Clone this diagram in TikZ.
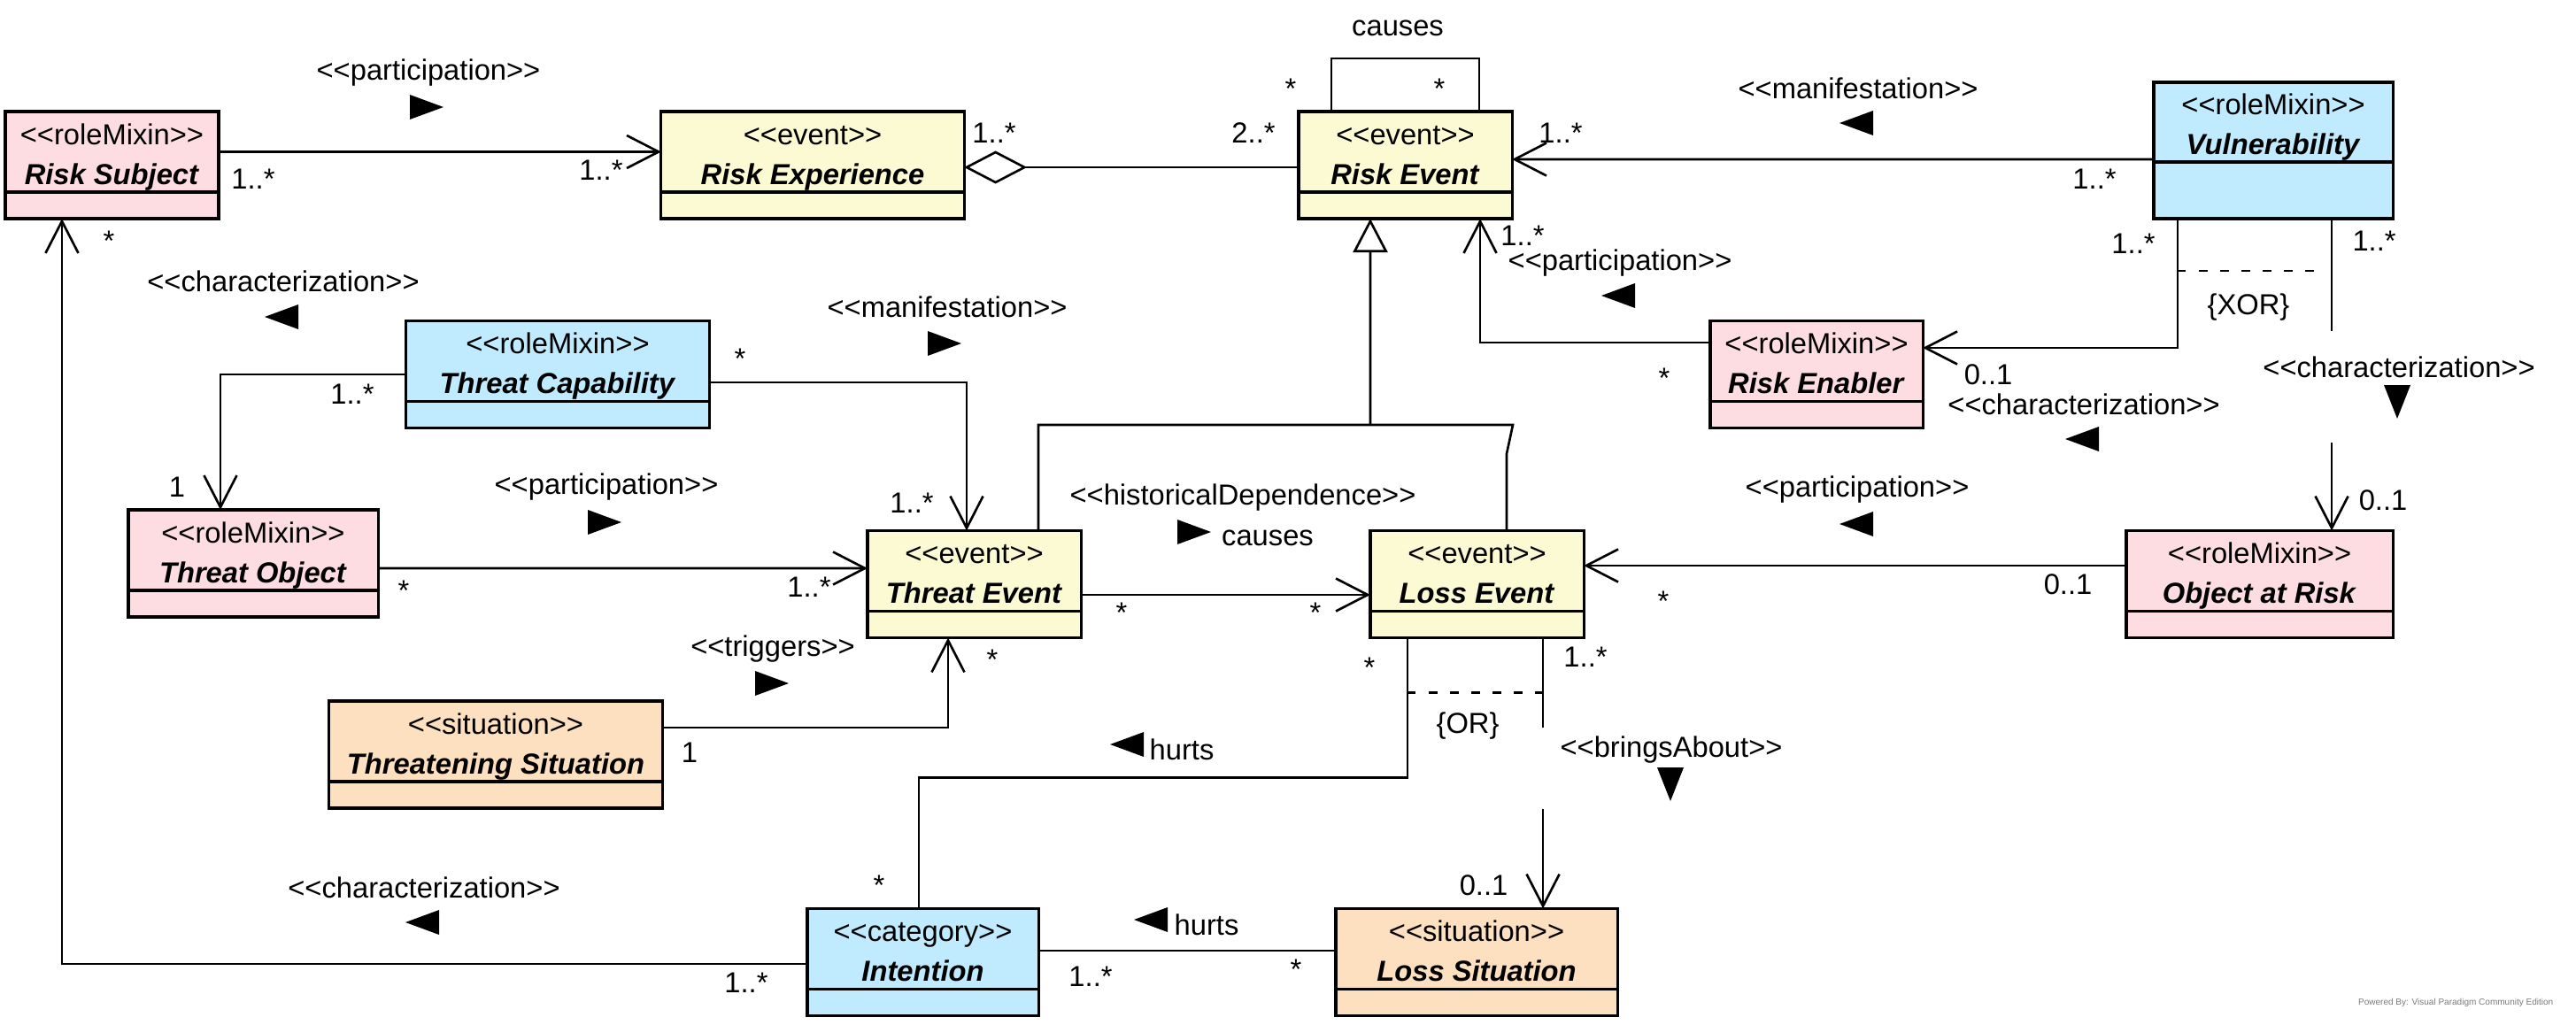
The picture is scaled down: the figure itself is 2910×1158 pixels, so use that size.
\documentclass[tikz,border=0pt]{standalone}
\usepackage{fontspec}
\setmainfont{Liberation Sans}
\usetikzlibrary{arrows.meta, positioning}
\definecolor{fPink}{HTML}{FDDDE1}
\definecolor{fYellow}{HTML}{FBFAD3}
\definecolor{fBlue}{HTML}{C0EBFE}
\definecolor{fPeach}{HTML}{FDE0C0}
\definecolor{wmGray}{HTML}{7A7A7A}
\newcommand{\stereo}[1]{<{}<#1>{}>}
\newcommand{\cname}[1]{\textbf{\textit{#1}}}
\tikzset{
  umlfont/.style={font=\fontsize{9.3}{12.8}\selectfont},
  % fixed text height/depth: the two lines sit a little below the middle
  cls/.style={draw, line width=0.9pt, fill=#1, umlfont, align=center,
    minimum height=0.91cm, inner sep=0pt, outer sep=0pt,
    text height=23pt, text depth=2pt},
  cmp/.style={draw, line width=0.9pt, fill=#1, minimum height=0.30cm,
    inner sep=0pt, outer sep=0pt},
  lbl/.style={umlfont, inner sep=1pt},
  link/.style={line width=0.75pt},
  assoc/.style={link, -{Straight Barb[length=3.6mm,width=3.7mm]}},
  gen/.style={link, -{Triangle[open,length=3.8mm,width=3.9mm]}},
  aggr/.style={link, {Diamond[open,length=7.1mm,width=3.7mm]}-},
  cstr/.style={link, dash pattern=on 0.95mm off 1.45mm},
  % filled reading-direction marks next to the stereotypes
  pics/triR/.style={code={\fill (-19,-14) -- (19,0) -- (-19,14) -- cycle;}},
  pics/triL/.style={code={\fill (19,-14) -- (-19,0) -- (19,14) -- cycle;}},
  pics/triD/.style={code={\fill (-15,-19) -- (0,19) -- (15,-19) -- cycle;}},
}

\begin{document}
\begin{tikzpicture}[x=0.01cm, y=-0.01cm]
\useasboundingbox (0,0) rectangle (2910,1158);

% =====================================================================
% CLASSES
% =====================================================================
\node[cls=fPink, minimum width=2.41cm] (rsub) at (126.5,171.5) {\stereo{roleMixin}\\\cname{Risk Subject}};
\node[cmp=fPink, minimum width=2.41cm, below=0pt of rsub] (rsub-a) {};

\node[cls=fYellow, minimum width=3.42cm] (rexp) at (918,171.5) {\stereo{event}\\\cname{Risk Experience}};
\node[cmp=fYellow, minimum width=3.42cm, below=0pt of rexp] (rexp-a) {};

\node[cls=fYellow, minimum width=2.41cm] (rev) at (1587.5,171.5) {\stereo{event}\\\cname{Risk Event}};
\node[cmp=fYellow, minimum width=2.41cm, below=0pt of rev] (rev-a) {};

\node[cls=fBlue, minimum width=2.70cm, minimum height=0.90cm] (vul) at (2568,138) {\stereo{roleMixin}\\\cname{Vulnerability}};
\node[cmp=fBlue, minimum width=2.70cm, minimum height=0.64cm, below=0pt of vul] (vul-a) {};

\node[cls=fBlue, minimum width=3.42cm] (tc) at (630,408) {\stereo{roleMixin}\\\cname{Threat Capability}};
\node[cmp=fBlue, minimum width=3.42cm, below=0pt of tc] (tc-a) {};

\node[cls=fPink, minimum width=2.40cm] (ren) at (2052,408) {\stereo{roleMixin}\\\cname{Risk Enabler}};
\node[cmp=fPink, minimum width=2.40cm, below=0pt of ren] (ren-a) {};

\node[cls=fPink, minimum width=2.82cm] (to) at (286,621.5) {\stereo{roleMixin}\\\cname{Threat Object}};
\node[cmp=fPink, minimum width=2.82cm, below=0pt of to] (to-a) {};

\node[cls=fYellow, minimum width=2.41cm] (te) at (1100.5,645) {\stereo{event}\\\cname{Threat Event}};
\node[cmp=fYellow, minimum width=2.41cm, below=0pt of te] (te-a) {};

\node[cls=fYellow, minimum width=2.41cm] (le) at (1668.5,645) {\stereo{event}\\\cname{Loss Event}};
\node[cmp=fYellow, minimum width=2.41cm, below=0pt of le] (le-a) {};

\node[cls=fPink, minimum width=3.01cm] (oar) at (2552.5,645) {\stereo{roleMixin}\\\cname{Object at Risk}};
\node[cmp=fPink, minimum width=3.01cm, below=0pt of oar] (oar-a) {};

\node[cls=fPeach, minimum width=3.76cm] (ts) at (560,837.5) {\stereo{situation}\\\cname{Threatening Situation}};
\node[cmp=fPeach, minimum width=3.76cm, below=0pt of ts] (ts-a) {};

\node[cls=fBlue, minimum width=2.61cm] (int) at (1042.5,1072) {\stereo{category}\\\cname{Intention}};
\node[cmp=fBlue, minimum width=2.61cm, below=0pt of int] (int-a) {};

\node[cls=fPeach, minimum width=3.18cm] (ls) at (1668,1072) {\stereo{situation}\\\cname{Loss Situation}};
\node[cmp=fPeach, minimum width=3.18cm, below=0pt of ls] (ls-a) {};

% =====================================================================
% CONNECTORS
% =====================================================================
\draw[assoc] (rsub) -- (rexp);
\draw[aggr] ([yshift=-0.175cm]rexp.east) -- ([yshift=-0.175cm]rev.west);
\draw[link] ([xshift=-0.835cm]rev.north) -- ++(0,-60) -| ([xshift=0.835cm]rev.north);
\draw[assoc] ([yshift=-0.42cm]vul.west) -- ([yshift=-0.085cm]rev.east);
\draw[assoc] ([yshift=0.21cm]ren.west) -| ([xshift=0.845cm]rev-a.south);

% generalization of the two events
\coordinate (gJ) at (1548,480);
\coordinate (gR) at (1709,480);
\draw[gen] (gJ) -- ([xshift=-0.395cm]rev-a.south);
\draw[link] ([xshift=0.725cm]te.north) |- (gR) -- ([xshift=0.335cm,yshift=0.87cm]le.north) -- ([xshift=0.335cm]le.north);

\draw[assoc] ([yshift=-0.15cm]tc.west) -| ([xshift=-0.37cm]to.north);
\draw[assoc] ([yshift=-0.24cm]tc.east) -| ([xshift=-0.085cm]te.north);
\draw[assoc] ([yshift=-0.205cm]to.east) -- ([yshift=0.03cm]te.west);
\draw[assoc] ([yshift=0.155cm]ts.east) -| ([xshift=-0.295cm]te-a.south);
\draw[assoc] ([yshift=-0.27cm]te.east) -- ([yshift=-0.27cm]le.west);
\draw[assoc] ([yshift=0.06cm]oar.west) -- ([yshift=0.06cm]le.east);

% vulnerability: XOR pair
\draw[assoc] ([xshift=-1.08cm]vul-a.south) |- ([yshift=0.15cm]ren.east);
\draw[link] ([xshift=0.66cm]vul-a.south) -- ++(0,127);
\draw[assoc] ([xshift=0.815cm,yshift=0.99cm]oar.north) -- ([xshift=0.815cm]oar.north);
\draw[cstr] ([xshift=-1.08cm,yshift=-0.59cm]vul-a.south) -- ([xshift=0.57cm,yshift=-0.59cm]vul-a.south);

% loss event: OR pair
\draw[link] ([xshift=0.745cm]le-a.south) -- ++(0,101);
\draw[assoc] ([xshift=0.75cm,yshift=1.12cm]ls.north) -- ([xshift=0.75cm]ls.north);
\draw[link] ([xshift=-0.785cm]le-a.south) -- ++(0,158) -| ([xshift=-0.045cm]int.north);
\draw[cstr] ([xshift=-0.785cm,yshift=-0.62cm]le-a.south) -- ([xshift=0.745cm,yshift=-0.62cm]le-a.south);

\draw[link] ([yshift=-0.02cm]int.east) -- ([yshift=-0.02cm]ls.west);
\draw[assoc] ([yshift=-0.17cm]int.west) -| ([xshift=-0.565cm]rsub-a.south);

% =====================================================================
% LABELS
% =====================================================================
% -- top row
\node[lbl] (l-part1) at (484,82) {\stereo{participation}};
\pic at (482,121) {triR};
\node[lbl] (m-rs1) at (286,202) {1..*};
\node[lbl] (m-rx1) at (679,192) {1..*};
\node[lbl] (m-rx2) at (1123,150) {1..*};
\node[lbl] (m-re1) at (1416,150) {2..*};
\node[lbl] (l-cause1) at (1579,32) {causes};
\node[lbl] (m-re2) at (1458,100) {*};
\node[lbl] (m-re3) at (1626,100) {*};
\node[lbl] (l-manif1) at (2099,100) {\stereo{manifestation}};
\pic at (2097,139) {triL};
\node[lbl] (m-re4) at (1763,150) {1..*};
\node[lbl] (m-vu1) at (2366,202) {1..*};
\node[lbl] (m-re5) at (1720,266) {1..*};
\node[lbl] (l-part2) at (1830,297) {\stereo{participation}};
\pic at (1828,334) {triL};
\node[lbl] (m-en1) at (1880,427) {*};

% -- threat side
\node[lbl] (l-char1) at (320,318) {\stereo{characterization}};
\pic at (318,358) {triL};
\node[lbl] (m-tc1) at (398,445) {1..*};
\node[lbl] (m-to1) at (200,550) {1};
\node[lbl] (l-manif2) at (1070,347) {\stereo{manifestation}};
\pic at (1067,388) {triR};
\node[lbl] (m-tc2) at (836,405) {*};
\node[lbl] (m-te1) at (1030,568) {1..*};
\node[lbl] (l-part3) at (685,550) {\stereo{participation}};
\pic at (683,590) {triR};
\node[lbl] (m-to2) at (456,667) {*};
\node[lbl] (m-te2) at (914,663) {1..*};
\node[lbl] (l-trig) at (873,733) {\stereo{triggers}};
\pic at (872,772) {triR};
\node[lbl] (m-ts1) at (779,850) {1};
\node[lbl] (m-te3) at (1121,745) {*};
\node[lbl] (l-hist) at (1404,562) {\stereo{historicalDependence}};
\pic at (1349,601) {triR};
\node[lbl] (l-cause2) at (1432,608) {causes};
\node[lbl] (m-te4) at (1267,692) {*};
\node[lbl] (m-le1) at (1486,692) {*};

% -- right side
\node[lbl] (l-part4) at (2098,553) {\stereo{participation}};
\pic at (2097,592) {triL};
\node[lbl] (m-le2) at (1879,679) {*};
\node[lbl] (m-oa1) at (2336,660) {0..1};
\node[lbl] (m-vu2) at (2410,275) {1..*};
\node[lbl] (m-en2) at (2246,423) {0..1};
\node[lbl] (l-char2) at (2354,457) {\stereo{characterization}};
\pic at (2352,496) {triL};
\node[lbl] (m-vu3) at (2682,272) {1..*};
\node[lbl] (m-oa2) at (2692,565) {0..1};
\node[lbl] (l-char3) at (2710,415) {\stereo{characterization}};
\pic at (2708,454) {triD};
\node[lbl] (c-xor) at (2540,347) {\{XOR\}};

% -- bottom
\node[lbl] (m-le3) at (1791,742) {1..*};
\node[lbl] (m-ls1) at (1676,1000) {0..1};
\node[lbl] (l-brings) at (1888,847) {\stereo{bringsAbout}};
\pic at (1887,886) {triD};
\node[lbl] (m-le4) at (1547,754) {*};
\node[lbl] (m-in1) at (993,1000) {*};
\node[lbl] (l-hurt1) at (1335,847) {hurts};
\pic at (1273,841) {triL};
\node[lbl] (c-or) at (1658,820) {\{OR\}};
\node[lbl] (m-in2) at (1232,1103) {1..*};
\node[lbl] (m-ls2) at (1464,1095) {*};
\node[lbl] (l-hurt2) at (1363,1045) {hurts};
\pic at (1300,1039) {triL};
\node[lbl] (l-char4) at (479,1003) {\stereo{characterization}};
\pic at (477,1042) {triL};
\node[lbl] (m-in3) at (843,1110) {1..*};
\node[lbl] (m-rs2) at (123,272) {*};

\node[font=\fontsize{2.85}{3.4}\selectfont, text=wmGray, anchor=east, inner sep=0pt] (wm) at (2885,1133) {Powered By: Visual Paradigm Community Edition};

\end{tikzpicture}
\end{document}
